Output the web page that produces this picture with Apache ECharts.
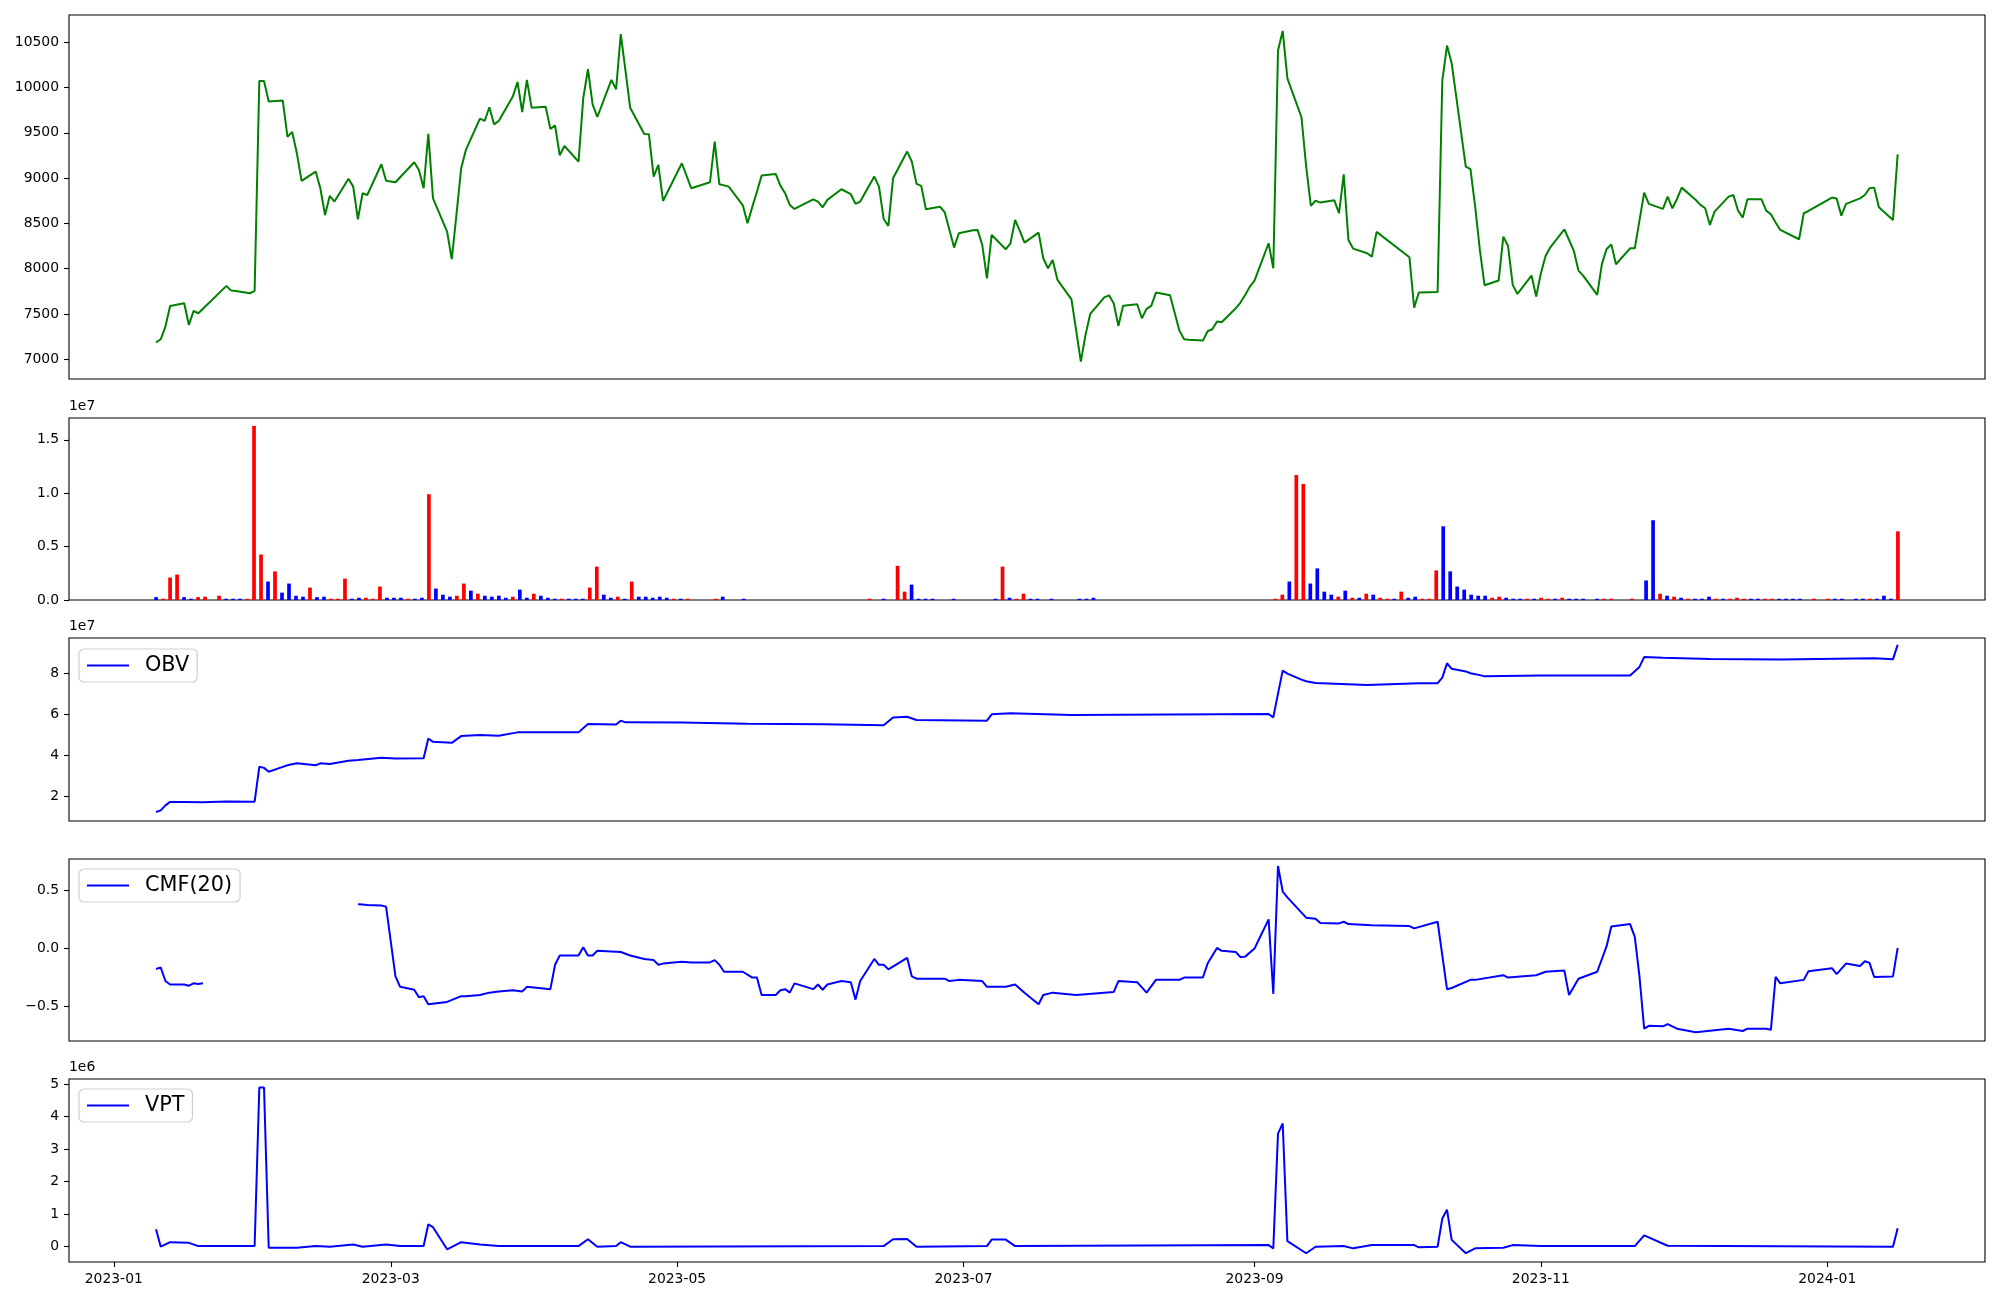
<!DOCTYPE html>
<html><head><meta charset="utf-8">
<script src="https://cdn.jsdelivr.net/npm/echarts@6/dist/echarts.min.js"></script>
<style>html,body{margin:0;padding:0;background:#fff}#c{width:2000px;height:1300px}</style>
</head><body><div id="c"></div>
<script>
const dates = [
'2023-01-10','2023-01-11','2023-01-12','2023-01-13','2023-01-16','2023-01-17','2023-01-18','2023-01-19','2023-01-20','2023-01-25','2023-01-26','2023-01-27','2023-01-30','2023-01-31',
'2023-02-01','2023-02-02','2023-02-03','2023-02-06','2023-02-07','2023-02-08','2023-02-09','2023-02-10','2023-02-13','2023-02-14','2023-02-15','2023-02-16','2023-02-17','2023-02-20','2023-02-21','2023-02-22','2023-02-23','2023-02-24','2023-02-27','2023-02-28',
'2023-03-02','2023-03-03','2023-03-06','2023-03-07','2023-03-08','2023-03-09','2023-03-10','2023-03-13','2023-03-14','2023-03-15','2023-03-16','2023-03-17','2023-03-20','2023-03-21','2023-03-22','2023-03-23','2023-03-24','2023-03-27','2023-03-28','2023-03-29','2023-03-30','2023-03-31',
'2023-04-03','2023-04-04','2023-04-05','2023-04-06','2023-04-07','2023-04-10','2023-04-11','2023-04-12','2023-04-13','2023-04-14','2023-04-17','2023-04-18','2023-04-19','2023-04-20','2023-04-21','2023-04-24','2023-04-25','2023-04-26','2023-04-27','2023-04-28',
'2023-05-02','2023-05-03','2023-05-04','2023-05-08','2023-05-09','2023-05-10','2023-05-11','2023-05-12','2023-05-15','2023-05-16','2023-05-17','2023-05-18','2023-05-19','2023-05-22','2023-05-23','2023-05-24','2023-05-25','2023-05-26','2023-05-30','2023-05-31',
'2023-06-01','2023-06-02','2023-06-05','2023-06-07','2023-06-08','2023-06-09','2023-06-12','2023-06-13','2023-06-14','2023-06-15','2023-06-16','2023-06-19','2023-06-20','2023-06-21','2023-06-22','2023-06-23','2023-06-26','2023-06-27','2023-06-28','2023-06-29','2023-06-30',
'2023-07-03','2023-07-04','2023-07-05','2023-07-06','2023-07-07','2023-07-10','2023-07-11','2023-07-12','2023-07-13','2023-07-14','2023-07-17','2023-07-18','2023-07-19','2023-07-20','2023-07-21','2023-07-24','2023-07-25','2023-07-26','2023-07-27','2023-07-28','2023-07-31',
'2023-08-01','2023-08-02','2023-08-03','2023-08-04','2023-08-07','2023-08-08','2023-08-09','2023-08-10','2023-08-11','2023-08-14','2023-08-16','2023-08-17','2023-08-18','2023-08-21','2023-08-22','2023-08-23','2023-08-24','2023-08-25','2023-08-28','2023-08-29','2023-08-30','2023-08-31',
'2023-09-01','2023-09-04','2023-09-05','2023-09-06','2023-09-07','2023-09-08','2023-09-11','2023-09-12','2023-09-13','2023-09-14','2023-09-15','2023-09-18','2023-09-19','2023-09-20','2023-09-21','2023-09-22','2023-09-25','2023-09-26','2023-09-27',
'2023-10-04','2023-10-05','2023-10-06','2023-10-10','2023-10-11','2023-10-12','2023-10-13','2023-10-16','2023-10-17','2023-10-18','2023-10-19','2023-10-20','2023-10-23','2023-10-24','2023-10-25','2023-10-26','2023-10-27','2023-10-30','2023-10-31',
'2023-11-01','2023-11-02','2023-11-03','2023-11-06','2023-11-07','2023-11-08','2023-11-09','2023-11-10','2023-11-13','2023-11-14','2023-11-15','2023-11-16','2023-11-17','2023-11-20','2023-11-21','2023-11-22','2023-11-23','2023-11-24','2023-11-27','2023-11-28','2023-11-29','2023-11-30',
'2023-12-01','2023-12-04','2023-12-05','2023-12-06','2023-12-07','2023-12-08','2023-12-11','2023-12-12','2023-12-13','2023-12-14','2023-12-15','2023-12-18','2023-12-19','2023-12-20','2023-12-21','2023-12-22','2023-12-26','2023-12-27','2023-12-28',
'2024-01-02','2024-01-03','2024-01-04','2024-01-05','2024-01-08','2024-01-09','2024-01-10','2024-01-11','2024-01-12','2024-01-15','2024-01-16'
];
const closePrice = [
7187,7221,7361,7589,7618,7379,7534,7508,7558,7810,7758,7754,7729,7754,
10073,10073,9845,9856,9455,9510,9274,8969,9072,8888,8593,8803,8741,8994,8906,8546,8833,8814,9153,8972,
8954,9010,9175,9090,8888,9488,8777,8409,8104,8600,9109,9311,9657,9631,9782,9594,9631,9900,10062,9730,10084,9778,
9789,9543,9583,9252,9355,9182,9881,10202,9815,9675,10084,9981,10591,10187,9778,9488,9484,9017,9145,8748,
9164,9028,8888,8954,9403,8932,8920,8906,8700,8501,8680,8850,9028,9046,8917,8833,8704,8660,8766,8741,
8678,8760,8877,8822,8715,8741,9017,8906,8549,8472,8998,9293,9182,8936,8914,8656,8685,8623,8430,8233,8391,
8425,8428,8262,7894,8373,8214,8280,8538,8417,8288,8398,8115,8005,8097,7880,7662,7320,6974,7269,7500,7684,
7706,7618,7368,7592,7607,7453,7556,7589,7736,7706,7316,7221,7215,7206,7309,7331,7416,7408,7563,7626,7710,7802,
7869,8281,8005,10408,10625,10102,9672,9127,8693,8752,8730,8755,8612,9042,8317,8222,8170,8133,8406,
8126,7570,7736,7743,10076,10463,10268,9127,9098,8685,8207,7817,7869,8354,8251,7821,7721,7924,7692,
7949,8141,8236,8435,8317,8200,7979,7924,7710,8053,8218,8266,8049,8225,8225,8530,8840,8715,8660,8796,8667,8770,
8895,8759,8704,8667,8483,8630,8796,8814,8641,8564,8766,8766,8641,8601,8510,8428,8325,8612,8637,
8785,8774,8586,8715,8777,8814,8888,8895,8678,8538,9263
];
// volume per session (millions of shares), same order as dates; plotted by session number
const volumeM = [
0.27,0.12,2.10,2.38,0.27,0.12,0.27,0.31,0,0.40,0.12,0.12,0.12,0.12,
16.3,4.26,1.73,2.68,0.69,1.54,0.40,0.31,1.16,0.27,0.31,0.12,0.12,2.0,0.12,0.21,0.21,0.12,1.26,0.21,
0.21,0.21,0.12,0.12,0.21,9.9,1.07,0.50,0.31,0.40,1.54,0.88,0.59,0.40,0.31,0.40,0.21,0.31,0.97,0.21,0.59,0.40,
0.21,0.12,0.12,0.12,0.12,0.12,1.16,3.13,0.50,0.21,0.31,0.12,1.73,0.31,0.31,0.21,0.31,0.21,0.12,0.12,
0.12,0,0,0,0.12,0.31,0,0,0.12,0,0,0,0,0,0,0,0,0,0,0,
0,0,0,0,0,0,0.12,0,0.12,0,3.2,0.78,1.44,0.12,0.12,0.12,0,0,0.12,0,0,
0,0,0,0.12,3.13,0.21,0.12,0.59,0.12,0.12,0,0.12,0,0,0,0.12,0.12,0.21,0,0,0,
0,0,0,0,0,0,0,0,0,0,0,0,0,0,0,0,0,0,0,0,0,0,
0.12,0.50,1.73,11.7,10.86,1.54,2.96,0.78,0.50,0.31,0.88,0.21,0.21,0.59,0.50,0.21,0.12,0.12,0.78,
0.21,0.31,0.12,0.12,2.77,6.9,2.68,1.26,0.97,0.50,0.40,0.40,0.21,0.31,0.21,0.12,0.12,0.12,0.12,
0.21,0.12,0.12,0.21,0.12,0.12,0.12,0,0.12,0.12,0.12,0,0,0.12,0,1.83,7.47,0.59,0.40,0.31,0.21,0.12,
0.12,0.12,0.31,0.12,0.12,0.12,0.21,0.12,0.12,0.12,0.12,0.12,0.12,0.12,0.12,0.12,0,0.12,0,
0.12,0.12,0.12,0,0.12,0.12,0.12,0.12,0.40,0.12,6.43
];
// bar colour per session: r = red, b = blue
const volumeColor = (
'brrrbbrrbrbbbr' +
'rrbrbbbbrbbrrrbbrrrb' +
'bbrbbrbbbrrbrbbbbrbbrb' +
'bbrbbbrrbbrbrbbbbbrb' +
'rbbbrbbbbbbbbbbbbbbb' +
'bbbbbbrbbbrrbbbbbbbbb' +
'bbbbrbrrbbbbbbbbbbbbb' +
'bbbbbbbbbbbbbbbbbbbbbb' +
'rrbrrbbbbrbrbrbrrbr' +
'bbrrrbbbbbbbrrbbbrb' +
'rrbrbbbbbrrbbrbbbrbrbr' +
'bbbrbrrrbbrrbbbbbrb' +
'rbbbbbrbbbr').split('');

const obvDates = ['2023-01-10','2023-01-11','2023-01-12','2023-01-13','2023-01-16','2023-01-20','2023-01-25','2023-01-31','2023-02-01','2023-02-02','2023-02-03','2023-02-06','2023-02-07','2023-02-09','2023-02-13','2023-02-14','2023-02-16','2023-02-20','2023-02-22','2023-02-27','2023-03-02','2023-03-08','2023-03-09','2023-03-10','2023-03-14','2023-03-16','2023-03-20','2023-03-24','2023-03-28','2023-04-10','2023-04-12','2023-04-18','2023-04-19','2023-04-20','2023-05-02','2023-05-16','2023-06-01','2023-06-14','2023-06-16','2023-06-19','2023-06-21','2023-07-06','2023-07-07','2023-07-11','2023-07-24','2023-08-14','2023-09-04','2023-09-05','2023-09-06','2023-09-07','2023-09-08','2023-09-11','2023-09-12','2023-09-14','2023-09-25','2023-10-06','2023-10-10','2023-10-11','2023-10-12','2023-10-13','2023-10-16','2023-10-17','2023-10-19','2023-10-20','2023-11-01','2023-11-20','2023-11-22','2023-11-23','2023-11-27','2023-12-07','2023-12-22','2024-01-11','2024-01-15','2024-01-16'];
const obvValues = [1.23,1.31,1.55,1.72,1.72,1.71,1.74,1.73,3.43,3.38,3.19,3.43,3.51,3.6,3.51,3.6,3.57,3.73,3.76,3.87,3.84,3.85,4.81,4.65,4.6,4.93,4.98,4.95,5.11,5.11,5.52,5.49,5.68,5.6,5.59,5.53,5.5,5.46,5.84,5.87,5.71,5.68,5.99,6.04,5.96,5.98,6.0,5.84,7.0,8.12,7.97,7.68,7.6,7.52,7.42,7.5,7.51,7.78,8.48,8.21,8.08,7.99,7.9,7.84,7.88,7.88,8.3,8.78,8.75,8.69,8.66,8.72,8.67,9.38];

const cmfDates = ['2023-01-10','2023-01-11','2023-01-12','2023-01-13','2023-01-16','2023-01-17','2023-01-18','2023-01-19','2023-01-20','2023-01-25',
'2023-02-21','2023-02-22','2023-02-23','2023-02-24','2023-02-27','2023-02-28','2023-03-02','2023-03-03','2023-03-06','2023-03-07','2023-03-08','2023-03-09','2023-03-13','2023-03-16','2023-03-17','2023-03-20','2023-03-22','2023-03-24','2023-03-27','2023-03-29','2023-03-30','2023-04-04','2023-04-05','2023-04-06','2023-04-10','2023-04-11','2023-04-12','2023-04-13','2023-04-14','2023-04-19','2023-04-21','2023-04-24','2023-04-26','2023-04-27','2023-04-28','2023-05-02','2023-05-04','2023-05-08','2023-05-09','2023-05-10','2023-05-11','2023-05-15','2023-05-17','2023-05-18','2023-05-19','2023-05-22','2023-05-23','2023-05-24','2023-05-25','2023-05-26','2023-05-30','2023-05-31','2023-06-01','2023-06-02','2023-06-05','2023-06-07','2023-06-08','2023-06-09','2023-06-12','2023-06-13','2023-06-14','2023-06-15','2023-06-19','2023-06-20','2023-06-21','2023-06-27','2023-06-28','2023-06-30','2023-07-05','2023-07-06','2023-07-10','2023-07-12','2023-07-14','2023-07-17','2023-07-18','2023-07-20','2023-07-25','2023-08-02','2023-08-03','2023-08-07','2023-08-09','2023-08-11','2023-08-16','2023-08-17','2023-08-21','2023-08-22','2023-08-24','2023-08-25','2023-08-28','2023-08-29','2023-08-30','2023-09-01','2023-09-04','2023-09-05','2023-09-06','2023-09-07','2023-09-08','2023-09-12','2023-09-14','2023-09-15','2023-09-19','2023-09-20','2023-09-21','2023-09-26','2023-10-04','2023-10-05','2023-10-10','2023-10-12','2023-10-13','2023-10-17','2023-10-18','2023-10-24','2023-10-25','2023-10-31','2023-11-02','2023-11-06','2023-11-07','2023-11-09','2023-11-13','2023-11-15','2023-11-16','2023-11-20','2023-11-21','2023-11-22','2023-11-23','2023-11-24','2023-11-27','2023-11-28','2023-11-30','2023-12-04','2023-12-11','2023-12-14','2023-12-15','2023-12-19','2023-12-20','2023-12-21','2023-12-22','2023-12-27','2023-12-28','2024-01-02','2024-01-03','2024-01-05','2024-01-08','2024-01-09','2024-01-10','2024-01-11','2024-01-15','2024-01-16'];
const cmfValues = [-0.176,-0.164,-0.28,-0.31,-0.31,-0.32,-0.30,-0.305,-0.30,null,
null,0.38,0.378,0.375,0.37,0.36,-0.24,-0.33,-0.355,-0.42,-0.41,-0.48,-0.46,-0.41,-0.41,-0.40,-0.38,-0.37,-0.36,-0.37,-0.33,-0.35,-0.14,-0.06,-0.06,0.01,-0.06,-0.06,-0.02,-0.03,-0.06,-0.09,-0.10,-0.14,-0.13,-0.115,-0.12,-0.12,-0.10,-0.14,-0.20,-0.20,-0.25,-0.25,-0.40,-0.40,-0.36,-0.35,-0.38,-0.30,-0.35,-0.31,-0.355,-0.31,-0.28,-0.29,-0.44,-0.28,-0.09,-0.14,-0.14,-0.18,-0.08,-0.24,-0.26,-0.26,-0.28,-0.27,-0.28,-0.33,-0.33,-0.31,-0.38,-0.48,-0.40,-0.38,-0.40,-0.375,-0.28,-0.29,-0.38,-0.27,-0.27,-0.25,-0.25,-0.13,0.005,-0.02,-0.03,-0.075,-0.07,0.0,0.25,-0.39,0.71,0.49,0.44,0.265,0.256,0.22,0.216,0.23,0.21,0.20,0.193,0.173,0.23,-0.35,-0.34,-0.27,-0.27,-0.23,-0.25,-0.23,-0.20,-0.19,-0.40,-0.26,-0.20,0.02,0.19,0.21,0.10,-0.24,-0.69,-0.665,-0.67,-0.65,-0.69,-0.72,-0.69,-0.71,-0.69,-0.69,-0.70,-0.245,-0.30,-0.27,-0.196,-0.17,-0.22,-0.13,-0.15,-0.11,-0.124,-0.245,-0.24,0.006];

const vptDates = ['2023-01-10','2023-01-11','2023-01-13','2023-01-17','2023-01-19','2023-01-31','2023-02-01','2023-02-02','2023-02-03','2023-02-09','2023-02-13','2023-02-16','2023-02-21','2023-02-23','2023-02-28','2023-03-03','2023-03-08','2023-03-09','2023-03-10','2023-03-13','2023-03-16','2023-03-20','2023-03-24','2023-04-10','2023-04-12','2023-04-14','2023-04-18','2023-04-19','2023-04-21','2023-06-14','2023-06-16','2023-06-19','2023-06-21','2023-07-06','2023-07-07','2023-07-10','2023-07-12','2023-09-04','2023-09-05','2023-09-06','2023-09-07','2023-09-08','2023-09-12','2023-09-14','2023-09-20','2023-09-22','2023-09-26','2023-10-05','2023-10-06','2023-10-10','2023-10-11','2023-10-12','2023-10-13','2023-10-16','2023-10-18','2023-10-24','2023-10-26','2023-11-01','2023-11-21','2023-11-23','2023-11-28','2024-01-15','2024-01-16'];
const vptValues = [0.535,0.0,0.14,0.12,0.02,0.02,4.9,4.9,-0.03,-0.03,0.02,0.0,0.07,0.0,0.07,0.02,0.02,0.69,0.6,-0.08,0.14,0.07,0.02,0.02,0.23,0.0,0.02,0.14,0.0,0.02,0.23,0.24,0.0,0.02,0.22,0.22,0.02,0.05,-0.05,3.48,3.79,0.17,-0.2,0.0,0.02,-0.05,0.05,0.05,-0.02,0.0,0.87,1.14,0.21,-0.2,-0.05,-0.03,0.05,0.02,0.02,0.35,0.03,0.0,0.57];

const xTickLabels = ['2023-01-01','2023-03-01','2023-05-01','2023-07-01','2023-09-01','2023-11-01','2024-01-01'];

function ts(s){ return +new Date(s.length > 10 ? s.replace(' ','T') : s + 'T00:00:00'); }
const xTicks = xTickLabels.map(ts);
const xMin = ts('2022-12-22 11:00:00'), xMax = ts('2024-02-03 14:30:00');
const FONT = 'DejaVu Sans';
const lab = {color:'#000', fontFamily:FONT, fontSize:13.9};
const L = 69, W = 1916;
const grids = [
  {left:L, width:W, top:15, height:364},
  {left:L, width:W, top:418, height:182},
  {left:L, width:W, top:638, height:183},
  {left:L, width:W, top:859, height:182},
  {left:L, width:W, top:1079, height:183}
].map(g => Object.assign(g, {show:true, borderColor:'#000', borderWidth:1.1, backgroundColor:'#fff'}));

function fmtDate(v){ const d = new Date(v); return d.getFullYear() + '-' + String(d.getMonth()+1).padStart(2,'0'); }
function xAx(i, showLabels){
  return {type:'value', gridIndex:i, min:xMin, max:xMax, scale:true,
    axisLine:{show:false, onZero:false}, splitLine:{show:false},
    axisTick:{show:showLabels, customValues:xTicks, length:5, lineStyle:{color:'#000', width:1.1}},
    axisLabel:{show:showLabels, customValues:xTicks, margin:10, ...lab, formatter:fmtDate}};
}
// volume panel: bars placed by session number (0 .. n-1) with 5% margins
const nSess = dates.length;
const volXAxis = {type:'value', gridIndex:1, min:-0.05*(nSess-1), max:(nSess-1)*1.05, scale:true,
  axisLine:{show:false, onZero:false}, splitLine:{show:false}, axisTick:{show:false}, axisLabel:{show:false}};

function yAx(i, min, max, ticks, fmt, name){
  return {type:'value', gridIndex:i, min:min, max:max, scale:true,
    axisLine:{show:false, onZero:false}, splitLine:{show:false},
    axisTick:{show:true, customValues:ticks, length:5, lineStyle:{color:'#000', width:1.1}},
    axisLabel:{customValues:ticks, margin:10, ...lab, formatter:fmt},
    name:name||'', nameLocation:'end', nameGap:5,
    nameTextStyle:{...lab, align:'left', verticalAlign:'bottom'}};
}
const minus = s => s.replace('-','\u2212');
const legendBase = {orient:'horizontal', icon:'rect', itemWidth:42, itemHeight:2.2,
  backgroundColor:'#fff', borderColor:'#d0d0d0', borderWidth:1.2, borderRadius:5,
  padding:[6,8,6,8], textStyle:{fontFamily:FONT, fontSize:20.8, color:'#000', padding:[0,0,0,11]}};

const volData = volumeM.map((v,i)=>({value:[i, v], itemStyle:{color: volumeColor[i]==='r' ? '#ff0000' : '#0000ff'}}));

const option = {
  animation:false, backgroundColor:'#fff',
  grid:grids,
  xAxis:[xAx(0,false),volXAxis,xAx(2,false),xAx(3,false),xAx(4,true)],
  yAxis:[
    yAx(0, 6782, 10801, [7000,7500,8000,8500,9000,9500,10000,10500], v=>String(v)),
    yAx(1, 0, 17.04, [0,5,10,15], v=>(v/10).toFixed(1), '1e7'),
    yAx(2, 0.79, 9.71, [2,4,6,8], v=>String(v), '1e7'),
    yAx(3, -0.796, 0.77, [-0.5,0,0.5], v=>minus(v.toFixed(1))),
    yAx(4, -0.47, 5.16, [0,1,2,3,4,5], v=>String(v), '1e6')
  ],
  legend:[
    Object.assign({}, legendBase, {data:['OBV'], left:79, top:649}),
    Object.assign({}, legendBase, {data:['CMF(20)'], left:79, top:869}),
    Object.assign({}, legendBase, {data:['VPT'], left:79, top:1089})
  ],
  series:[
    {name:'Close', type:'line', xAxisIndex:0, yAxisIndex:0, showSymbol:false, symbol:'none',
      lineStyle:{color:'#008000', width:2}, data:dates.map((d,i)=>[ts(d), closePrice[i]])},
    {name:'Volume', type:'bar', xAxisIndex:1, yAxisIndex:1, barWidth:3.7, data:volData},
    {name:'OBV', type:'line', xAxisIndex:2, yAxisIndex:2, showSymbol:false, symbol:'none', color:'#0000ff',
      lineStyle:{color:'#0000ff', width:2}, data:obvDates.map((d,i)=>[ts(d), obvValues[i]])},
    {name:'CMF(20)', type:'line', xAxisIndex:3, yAxisIndex:3, showSymbol:false, symbol:'none', color:'#0000ff', connectNulls:false,
      lineStyle:{color:'#0000ff', width:2}, data:cmfDates.map((d,i)=>[ts(d), cmfValues[i]===null ? '-' : cmfValues[i]])},
    {name:'VPT', type:'line', xAxisIndex:4, yAxisIndex:4, showSymbol:false, symbol:'none', color:'#0000ff',
      lineStyle:{color:'#0000ff', width:2}, data:vptDates.map((d,i)=>[ts(d), vptValues[i]])}
  ]
};
const chart = echarts.init(document.getElementById('c'), null, {renderer:'canvas', width:2000, height:1300});
chart.setOption(option);
</script></body></html>
